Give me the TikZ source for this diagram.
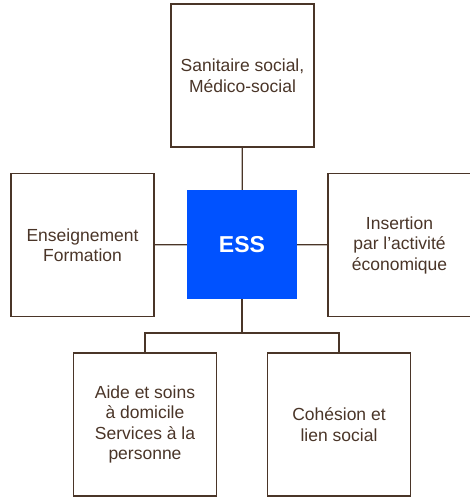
\documentclass[tikz,border=0pt]{standalone}
\usepackage{fontspec}
\setmainfont{Liberation Sans}
\usetikzlibrary{positioning}
\definecolor{essblue}{HTML}{0052FF}
\definecolor{brun}{HTML}{4A3528}
\tikzset{%
  % Specifications for style of nodes:
        base/.style = {rectangle, draw=brun, line width=1.2pt,
                       minimum width=143pt, minimum height=143pt,
                       inner sep=0pt, text centered, align=center,
                       text=brun, font=\fontsize{17.5}{20.5}\selectfont},
      sector/.style = {base},
         hub/.style = {rectangle, fill=essblue, inner sep=0pt,
                       minimum width=110pt, minimum height=109pt,
                       text=white, font=\fontsize{23}{26}\selectfont\bfseries},
        link/.style = {draw=brun, line width=1.2pt},
}
\begin{document}
\begin{tikzpicture}[x=1pt, y=-1pt]
  \useasboundingbox (0,0) rectangle (469,498);
  % Specification of nodes (position, etc.)
  \node (ess)       [hub]    at (242,244.5) {ESS};
  \node (sanitaire) [sector] at (242.5,75.5) {Sanitaire social,\\Médico-social};
  \node (formation) [sector] at (82.5,245)   {Enseignement\\Formation};
  \node (insertion) [sector] at (399.5,245)  {Insertion\\par l’activité\\économique};
  \node (aide)      [sector] at (145,424.5)  {Aide et soins\\à domicile\\Services à la\\personne};
  \node (cohesion)  [sector] at (339,424.5)  {Cohésion et\\lien social};
  \coordinate (fork) at (242,333);

  % Specification of lines between nodes specified above
  \draw[link] (sanitaire) -- (ess);
  \draw[link] (formation) -- (ess);
  \draw[link] (ess) -- (insertion);
  \draw[link] (ess) -- (fork);
  \draw[link] (aide.north) |- (fork) -| (cohesion.north);
\end{tikzpicture}
\end{document}
